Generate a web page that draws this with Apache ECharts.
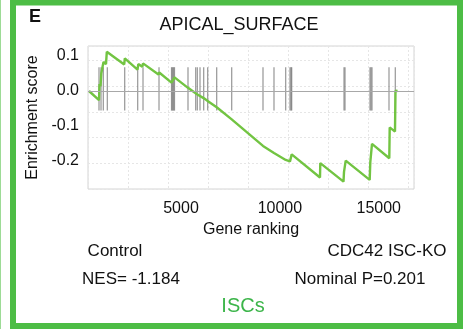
<!DOCTYPE html>
<html>
<head>
<meta charset="utf-8">
<script src="https://cdn.jsdelivr.net/npm/echarts@6/dist/echarts.min.js"></script>
<style>
  html, body { margin: 0; padding: 0; background: #fff; }
  #chart { width: 472px; height: 329px; }
</style>
</head>
<body>
<div id="chart"></div>
<script>
// running enrichment score, vertices
const rankPos = [349, 854, 880, 930, 971, 1057, 1082, 1208, 1249, 2129, 2159, 2801, 2841, 3044, 3079,
  3863, 3898, 4520, 4672, 5354, 5364, 5809, 5824, 6163, 6173, 6366, 6376, 6821, 6831, 7564, 7579,
  9146, 9162, 9702, 9718, 10294, 10309, 10511, 10597, 12028, 12043, 13216, 13242, 13307, 13328,
  14541, 14572, 14632, 14657, 15532, 15552, 15820, 15845, 15947]
const esValues = [0, -0.026, 0.020, 0.014, 0.051, 0.046, 0.083, 0.077, 0.112, 0.076, 0.093, 0.061, 0.077, 0.069, 0.079,
  0.047, 0.053, 0.024, 0.039, 0.009, 0.011, -0.009, -0.006, -0.021, -0.019, -0.029, -0.026, -0.047, -0.044, -0.081, -0.079,
  -0.157, -0.153, -0.177, -0.173, -0.197, -0.194, -0.201, -0.181, -0.247, -0.206, -0.259, -0.231, -0.229, -0.199,
  -0.254, -0.203, -0.201, -0.151, -0.192, -0.104, -0.116, 0.001, 0]

// gene set members (hit positions in the ranked list)
const hitRanks = [854, 956, 1072, 1274, 2154, 2811, 3079, 3888, 4520, 4571, 4621, 4672, 5354, 5744, 5824,
  5961, 6148, 6350, 6805, 7564, 9146, 9702, 10294, 10511, 10562, 10597, 13242, 13292, 14556, 14607,
  14657, 15517, 15835]

const xTicks = [5000, 10000, 15000]
const yTicks = [-0.2, -0.1, 0, 0.1]

const HIT_TOP = 0.068
const HIT_BOTTOM = -0.056

const font = 'Liberation Sans, Arial, sans-serif'
const frameGreen = '#4dbd45'
const curveGreen = '#72c442'

const chart = echarts.init(document.getElementById('chart'), null, { renderer: 'canvas' })

chart.setOption({
  backgroundColor: '#fff',
  animation: false,
  grid: {
    left: 88,
    top: 46,
    width: 326,
    height: 143,
    show: true,
    borderColor: '#d4d4d4',
    borderWidth: 1,
  },
  xAxis: [
    {
      type: 'value',
      min: 298,
      max: 16781,
      name: 'Gene ranking',
      nameLocation: 'middle',
      nameGap: 33,
      nameTextStyle: { fontFamily: font, fontSize: 16, color: '#111' },
      axisLine: { show: false },
      axisTick: { show: false },
      splitLine: { show: false },
      axisLabel: {
        customValues: xTicks,
        formatter: (v) => String(v),
        fontFamily: font,
        fontSize: 16,
        color: '#111',
        margin: 12,
      },
    },
    {
      // only for the dashed background grid
      type: 'value',
      min: 0,
      max: 326,
      interval: 40,
      show: true,
      axisLine: { show: false },
      axisTick: { show: false },
      axisLabel: { show: false },
      splitLine: { show: true, lineStyle: { color: '#e6e6e6', type: [2, 2] } },
    },
  ],
  yAxis: [
    {
      type: 'value',
      min: -0.28,
      max: 0.1286,
      name: 'Enrichment score',
      nameLocation: 'middle',
      nameGap: 38,
      nameTextStyle: { fontFamily: font, fontSize: 16, color: '#111' },
      axisLine: { show: false },
      axisTick: { show: false },
      splitLine: { show: false },
      axisLabel: {
        customValues: yTicks,
        formatter: (v) => v.toFixed(1),
        fontFamily: font,
        fontSize: 16,
        color: '#111',
        margin: 9,
      },
    },
    {
      type: 'value',
      min: -4.4,
      max: 138.6,
      interval: 25.7,
      axisLine: { show: false },
      axisTick: { show: false },
      axisLabel: { show: false },
      splitLine: { show: true, lineStyle: { color: '#e6e6e6', type: [2, 2] } },
    },
  ],
  series: [
    {
      type: 'custom',
      name: 'hits',
      silent: true,
      data: hitRanks.map((r) => [r]),
      renderItem: (params, api) => {
        const x = api.value(0)
        const p1 = api.coord([x, HIT_TOP])
        const p2 = api.coord([x, HIT_BOTTOM])
        return {
          type: 'line',
          shape: { x1: p1[0], y1: p1[1], x2: p2[0], y2: p2[1] },
          style: { stroke: 'rgba(105,105,105,0.7)', lineWidth: 1.2 },
        }
      },
      z: 2,
    },
    {
      type: 'line',
      name: 'ES',
      data: rankPos.map((r, i) => [r, esValues[i]]),
      showSymbol: false,
      lineStyle: { color: curveGreen, width: 2.4 },
      markLine: {
        silent: true,
        symbol: 'none',
        label: { show: false },
        lineStyle: { color: '#a8a8a8', type: 'solid', width: 1 },
        data: [{ yAxis: 0 }],
      },
      z: 3,
    },
  ],
  graphic: [
    {
      type: 'rect',
      shape: { x: 13, y: 2.5, width: 447, height: 323.5 },
      style: { fill: 'none', stroke: frameGreen, lineWidth: 6 },
    },
    {
      type: 'line',
      shape: { x1: 0.5, y1: 0, x2: 0.5, y2: 329 },
      style: { stroke: '#9ddb96', lineWidth: 1 },
    },
    {
      type: 'text', x: 29, y: 17, style: { text: 'E', font: 'bold 18px ' + font, fill: '#111', verticalAlign: 'middle' },
    },
    {
      type: 'text', x: 239, y: 25,
      style: { text: 'APICAL_SURFACE', font: '18px ' + font, fill: '#111', align: 'center', verticalAlign: 'middle' },
    },
    {
      type: 'text', x: 115, y: 251,
      style: { text: 'Control', font: '17px ' + font, fill: '#111', align: 'center', verticalAlign: 'middle' },
    },
    {
      type: 'text', x: 387, y: 251,
      style: { text: 'CDC42 ISC-KO', font: '17px ' + font, fill: '#111', align: 'center', verticalAlign: 'middle' },
    },
    {
      type: 'text', x: 131, y: 279,
      style: { text: 'NES= -1.184', font: '17px ' + font, fill: '#111', align: 'center', verticalAlign: 'middle' },
    },
    {
      type: 'text', x: 360, y: 279,
      style: { text: 'Nominal P=0.201', font: '17px ' + font, fill: '#111', align: 'center', verticalAlign: 'middle' },
    },
    {
      type: 'text', x: 243, y: 306,
      style: { text: 'ISCs', font: '20px ' + font, fill: '#3cb54a', align: 'center', verticalAlign: 'middle' },
    },
  ],
})
</script>
</body>
</html>
